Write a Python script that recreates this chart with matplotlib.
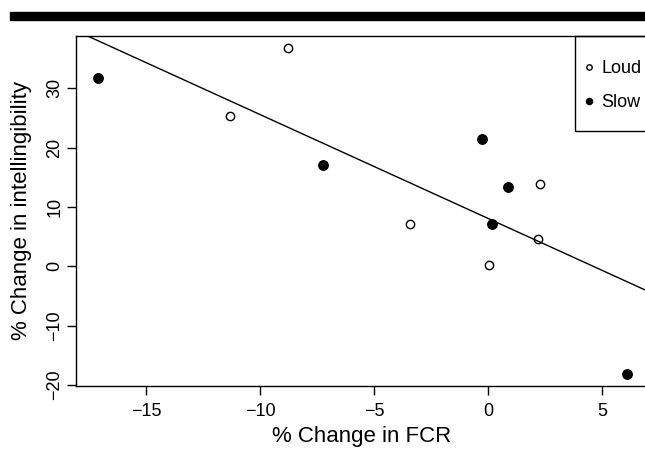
import numpy as np
import matplotlib
matplotlib.use("Agg")
import matplotlib.pyplot as plt
from matplotlib.patches import Rectangle

plt.rcParams['font.family'] = ['Liberation Sans', 'DejaVu Sans']

# Loud (open circles)
loud_fcr = [-8.78, -11.33, -3.42, 0.04, 2.19, 2.28]
loud_int = [36.8, 25.4, 7.17, 0.24, 4.64, 13.8]
# Slow (filled circles)
slow_fcr = [-17.14, -7.25, -0.28, 0.85, 0.16, 6.07]
slow_int = [31.7, 17.0, 21.4, 13.4, 7.17, -18.1]

xticks = [-15, -10, -5, 0, 5]
yticks = [-20, -10, 0, 10, 20, 30]

fig = plt.figure(figsize=(6.45, 4.53), dpi=100)
# barre noire en haut
fig.patches.append(Rectangle((10 / 645, 1 - 19.7 / 453), 1, 7.4 / 453,
                             transform=fig.transFigure, color='black', zorder=5))

ax = fig.add_axes([76 / 645, 1 - 385.7 / 453, 572 / 645, 350 / 453])

ax.plot(loud_fcr, loud_int, 'o', mfc='white', mec='black', mew=1.0, ms=6, label='Loud')
ax.plot(slow_fcr, slow_int, 'o', mfc='black', mec='black', ms=6.8, label='Slow')

# droite de regression sur tous les points
x_all = np.array(loud_fcr + slow_fcr)
y_all = np.array(loud_int + slow_int)
m, b = np.polyfit(x_all, y_all, 1)
ax.axline((0, b), slope=m, color='black', lw=1.0)

ax.set_xlim(-18.09, 7.0)
ax.set_ylim(-20.1, 38.85)
ax.set_xticks(xticks)
ax.set_yticks(yticks)
ax.tick_params(length=6.7, width=1.0, labelsize=13, pad=6)
ax.tick_params(axis='y', pad=2.5)
for lab in ax.get_yticklabels():
    lab.set_rotation(90)
    lab.set_va('center')
for s in ax.spines.values():
    s.set_linewidth(1.0)

ax.set_xlabel('% Change in FCR', fontsize=16, labelpad=4)
ax.set_ylabel('% Change in intellingibility', fontsize=16, labelpad=10.5)

# legende (cadre dessine a part, coupe par le bord droit)
ax.legend(loc='upper left', bbox_to_anchor=(0.8526, 1.0), borderaxespad=0,
          frameon=False, fontsize=13, markerscale=0.65,
          handlelength=0.1, labelspacing=0.91,
          borderpad=1.37, handletextpad=0.6)
ax.add_patch(Rectangle((0.872, 0.7277), 0.3, 0.2723, transform=ax.transAxes,
                       fill=False, edgecolor='black', lw=1.0, clip_on=False))

fig.savefig('out.png', dpi=100)
